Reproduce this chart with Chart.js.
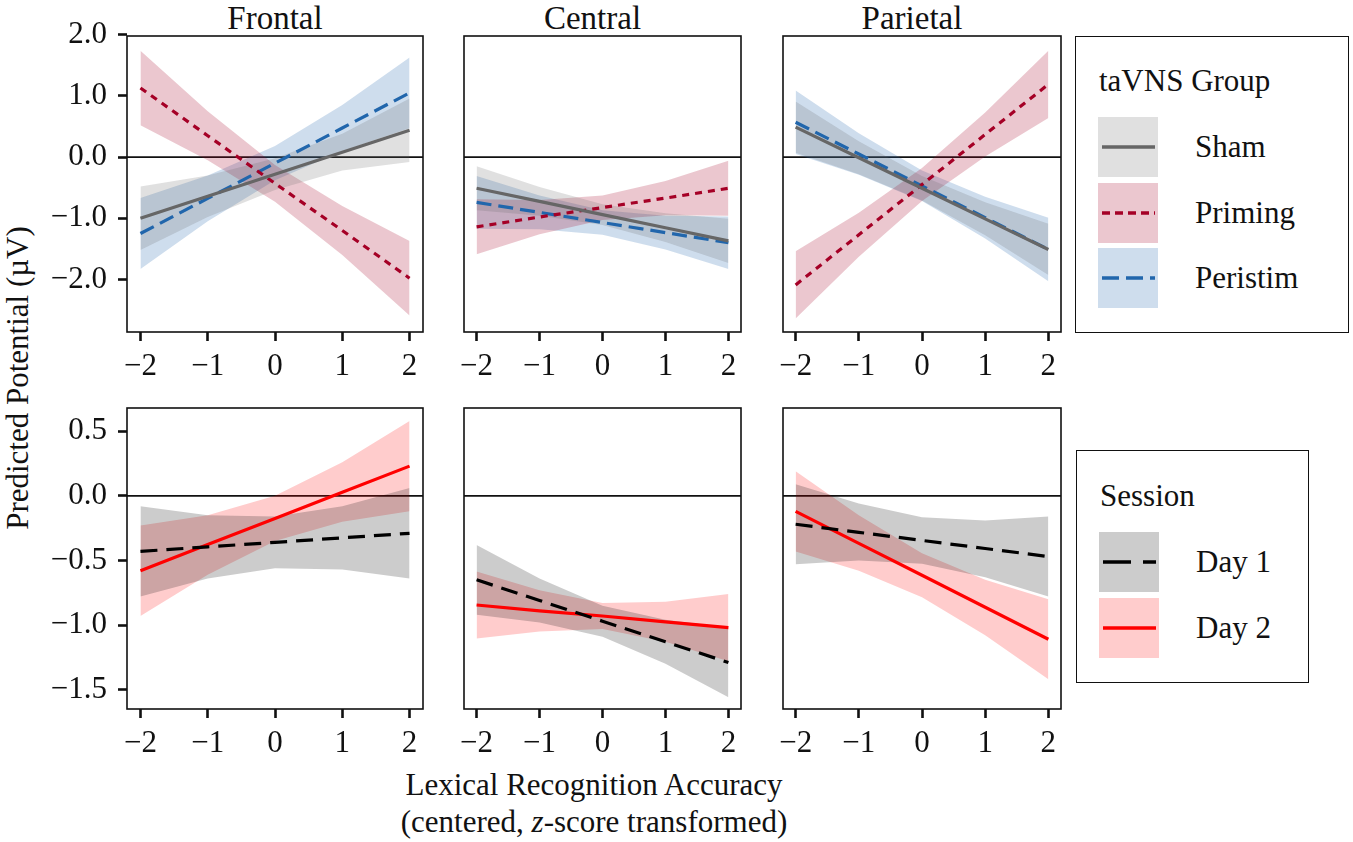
<!DOCTYPE html>
<html>
<head>
<meta charset="utf-8">
<script src="https://cdn.jsdelivr.net/npm/chart.js@4.4.1/dist/chart.umd.min.js"></script>
<style>
  body { margin: 0; background: #fff; width: 1353px; height: 842px; position: relative; overflow: hidden;
         font-family: "Liberation Serif", "Times New Roman", serif; color: #111; }
  .panel { position: absolute; }
  .strip { position: absolute; top: 0; height: 36px; line-height: 36px; font-size: 33px; text-align: center; }
  .ytitle { position: absolute; width: 700px; height: 40px; line-height: 40px; left: -332px; top: 358px;
            font-size: 31px; text-align: center; transform: rotate(-90deg); }
  .xtitle { position: absolute; left: 294px; width: 600px; top: 766px; font-size: 31px; line-height: 37px; text-align: center; }
  .legend { position: absolute; border: 1.5px solid #111; box-sizing: border-box; }
  .legend .title { position: absolute; left: 23px; font-size: 31px; line-height: 36px; white-space: nowrap; }
  .legend .key { position: absolute; left: 22px; width: 60px; height: 60px; }
  .legend .lab { position: absolute; left: 119px; font-size: 31px; line-height: 60px; white-space: nowrap; }
</style>
</head>
<body>

<div class="strip" style="left:127px;width:296px">Frontal</div>
<div class="strip" style="left:444px;width:297px">Central</div>
<div class="strip" style="left:763px;width:298px">Parietal</div>

<div class="ytitle">Predicted Potential (µV)</div>
<div class="xtitle">Lexical Recognition Accuracy<br>(centered, <i>z</i>-score transformed)</div>

<div class="legend" style="left:1075px;top:36px;width:274px;height:297px">
  <div class="title" style="top:26px">taVNS Group</div>
  <div class="key" id="k-sham" style="top:80px"></div>
  <div class="lab" style="top:80px">Sham</div>
  <div class="key" id="k-priming" style="top:146px"></div>
  <div class="lab" style="top:146px">Priming</div>
  <div class="key" id="k-peristim" style="top:211px"></div>
  <div class="lab" style="top:211px">Peristim</div>
</div>

<div class="legend" style="left:1076px;top:450px;width:233px;height:233px">
  <div class="title" style="top:27px">Session</div>
  <div class="key" id="k-day1" style="top:81px"></div>
  <div class="lab" style="top:81px">Day 1</div>
  <div class="key" id="k-day2" style="top:147px"></div>
  <div class="lab" style="top:147px">Day 2</div>
</div>

<script>
// x grid where the model predictions were evaluated
const xs = [-2, -1, 0, 1, 2];
const xTicks = [-2, -1, 0, 1, 2];
const yTicksGroup = [-2, -1, 0, 1, 2];
const yTicksSession = [-1.5, -1, -0.5, 0, 0.5];

// ---- taVNS group (top row) ----
const frontalSham = [-1.00, -0.64, -0.28, 0.08, 0.44];
const frontalShamLo = [-1.52, -0.98, -0.54, -0.22, -0.08];
const frontalShamHi = [-0.48, -0.30, -0.02, 0.38, 0.96];
const frontalPriming = [1.13, 0.35, -0.43, -1.20, -1.98];
const frontalPrimingLo = [0.52, -0.05, -0.73, -1.60, -2.59];
const frontalPrimingHi = [1.74, 0.75, -0.13, -0.80, -1.37];
const frontalPeristim = [-1.25, -0.675, -0.10, 0.475, 1.05];
const frontalPeristimLo = [-1.83, -1.05, -0.38, 0.10, 0.47];
const frontalPeristimHi = [-0.67, -0.30, 0.18, 0.85, 1.63];

const centralSham = [-0.51, -0.725, -0.94, -1.155, -1.37];
const centralShamLo = [-0.87, -0.96, -1.11, -1.39, -1.73];
const centralShamHi = [-0.15, -0.49, -0.77, -0.92, -1.01];
const centralPriming = [-1.14, -0.98, -0.825, -0.67, -0.51];
const centralPrimingLo = [-1.59, -1.26, -1.03, -0.95, -0.96];
const centralPrimingHi = [-0.69, -0.70, -0.63, -0.39, -0.06];
const centralPeristim = [-0.74, -0.905, -1.07, -1.235, -1.40];
const centralPeristimLo = [-1.17, -1.18, -1.27, -1.51, -1.83];
const centralPeristimHi = [-0.31, -0.63, -0.87, -0.96, -0.97];

const parietalSham = [0.49, -0.01, -0.51, -1.01, -1.51];
const parietalShamLo = [0.07, -0.28, -0.71, -1.28, -1.93];
const parietalShamHi = [0.91, 0.26, -0.31, -0.74, -1.09];
const parietalPriming = [-2.09, -1.27, -0.45, 0.37, 1.19];
const parietalPrimingLo = [-2.64, -1.63, -0.72, 0.01, 0.64];
const parietalPrimingHi = [-1.54, -0.91, -0.18, 0.73, 1.74];
const parietalPeristim = [0.57, 0.05, -0.47, -0.99, -1.51];
const parietalPeristimLo = [0.05, -0.29, -0.72, -1.33, -2.03];
const parietalPeristimHi = [1.09, 0.39, -0.22, -0.65, -0.99];

// ---- session (bottom row) ----
const frontalDay1 = [-0.43, -0.395, -0.36, -0.325, -0.29];
const frontalDay1Lo = [-0.78, -0.64, -0.56, -0.57, -0.64];
const frontalDay1Hi = [-0.08, -0.15, -0.16, -0.08, 0.06];
const frontalDay2 = [-0.58, -0.3775, -0.175, 0.0275, 0.23];
const frontalDay2Lo = [-0.93, -0.61, -0.35, -0.20, -0.12];
const frontalDay2Hi = [-0.23, -0.15, 0.00, 0.26, 0.58];

const centralDay1 = [-0.65, -0.81, -0.97, -1.13, -1.29];
const centralDay1Lo = [-0.92, -0.98, -1.09, -1.30, -1.56];
const centralDay1Hi = [-0.38, -0.64, -0.85, -0.96, -1.02];
const centralDay2 = [-0.845, -0.89, -0.93, -0.975, -1.02];
const centralDay2Lo = [-1.105, -1.05, -1.03, -1.13, -1.28];
const centralDay2Hi = [-0.585, -0.73, -0.83, -0.82, -0.76];

const parietalDay1 = [-0.22, -0.2825, -0.345, -0.4075, -0.47];
const parietalDay1Lo = [-0.53, -0.50, -0.525, -0.63, -0.78];
const parietalDay1Hi = [0.09, -0.06, -0.165, -0.19, -0.16];
const parietalDay2 = [-0.12, -0.3675, -0.615, -0.8625, -1.11];
const parietalDay2Lo = [-0.43, -0.58, -0.785, -1.08, -1.42];
const parietalDay2Hi = [0.19, -0.15, -0.445, -0.65, -0.80];

// line / ribbon styles (keyDash = pattern used in the legend swatch)
const styles = {
  sham: { line: "#666666", band: "rgba(102,102,102,0.2)", dash: [], keyDash: [] },
  priming: { line: "#a50026", band: "rgba(165,0,38,0.22)", dash: [7, 6], keyDash: [8, 5] },
  peristim: { line: "#2166ac", band: "rgba(33,102,172,0.22)", dash: [15, 7], keyDash: [17, 7] },
  day1: { line: "#000000", band: "rgba(0,0,0,0.2)", dash: [17, 9], keyDash: [28, 12] },
  day2: { line: "#ff0000", band: "rgba(255,0,0,0.2)", dash: [], keyDash: [] },
};

const FONT = { family: '"Liberation Serif", "Times New Roman", serif', size: 31 };
const INK = "#111";

function fmt(v, d) {
  return Number(v).toFixed(d).replace("-", "\u2212");
}
function pts(arr) {
  return xs.map((x, i) => ({ x: x, y: arr[i] }));
}

// frame around the panel plus the y = 0 reference line
const framePlugin = {
  id: "frame",
  beforeDatasetsDraw(chart) {
    const a = chart.chartArea;
    const y0 = chart.scales.y.getPixelForValue(0);
    const ctx = chart.ctx;
    ctx.save();
    ctx.strokeStyle = INK;
    ctx.lineWidth = 1.6;
    ctx.beginPath();
    ctx.moveTo(a.left, y0);
    ctx.lineTo(a.right, y0);
    ctx.stroke();
    ctx.restore();
  },
  afterDatasetsDraw(chart) {
    const a = chart.chartArea;
    const ctx = chart.ctx;
    ctx.save();
    ctx.strokeStyle = INK;
    ctx.lineWidth = 1.6;
    ctx.strokeRect(a.left, a.top, a.right - a.left, a.bottom - a.top);
    ctx.restore();
  },
};

function makePanel(box, yRange, yTicks, showY, series) {
  const padT = 45, padR = 20, xH = 54;
  const yW = showY ? box.left : 20;
  const div = document.createElement("div");
  div.className = "panel";
  div.style.left = box.left - yW + "px";
  div.style.top = box.top - padT + "px";
  const canvas = document.createElement("canvas");
  canvas.width = yW + box.width + padR;
  canvas.height = padT + box.height + xH;
  div.appendChild(canvas);
  document.body.appendChild(div);

  const datasets = [];
  series.forEach((s) => {
    const st = styles[s.key];
    const n = datasets.length;
    datasets.push({ data: pts(s.hi), borderColor: "transparent", borderWidth: 0, pointRadius: 0, fill: false, order: 10 });
    datasets.push({ data: pts(s.lo), borderColor: "transparent", borderWidth: 0, pointRadius: 0, fill: n, backgroundColor: st.band, order: 10 });
  });
  series.forEach((s) => {
    const st = styles[s.key];
    datasets.push({
      data: pts(s.mid), borderColor: st.line, borderWidth: 3.2, borderDash: st.dash,
      borderCapStyle: "butt", pointRadius: 0, fill: false, order: 1,
    });
  });

  new Chart(canvas, {
    type: "line",
    data: { datasets: datasets },
    options: {
      responsive: false,
      animation: false,
      layout: { padding: { top: padT, right: padR, left: showY ? 0 : 20, bottom: 0 } },
      plugins: { legend: { display: false }, tooltip: { enabled: false } },
      elements: { line: { tension: 0 } },
      scales: {
        x: {
          type: "linear", min: -2.2, max: 2.2,
          afterBuildTicks: (sc) => { sc.ticks = xTicks.map((v) => ({ value: v })); },
          afterFit: (sc) => { sc.height = xH; },
          ticks: { callback: (v) => fmt(v, 0), font: FONT, color: INK, padding: 7, maxRotation: 0, autoSkip: false },
          grid: { display: true, drawOnChartArea: false, drawTicks: true, tickLength: 9, tickWidth: 2.6, tickColor: INK },
          border: { display: false },
        },
        y: {
          type: "linear", min: yRange[0], max: yRange[1], display: showY,
          afterBuildTicks: (sc) => { sc.ticks = yTicks.map((v) => ({ value: v })); },
          afterFit: (sc) => { sc.width = yW; },
          ticks: { callback: (v) => fmt(v, 1), font: FONT, color: INK, padding: 11, autoSkip: false },
          grid: { display: true, drawOnChartArea: false, drawTicks: true, tickLength: 9, tickWidth: 2.6, tickColor: INK },
          border: { display: false },
        },
      },
    },
    plugins: [framePlugin],
  });
}

// legend keys: ribbon swatch with the line style on top
function drawKey(id, key) {
  const st = styles[key];
  const el = document.getElementById(id);
  el.style.background = st.band;
  el.innerHTML =
    '<svg width="60" height="60"><line x1="4" y1="30" x2="57" y2="30" stroke="' + st.line +
    '" stroke-width="3.6" stroke-dasharray="' + (st.keyDash.length ? st.keyDash.join(" ") : "none") + '"/></svg>';
}

window.addEventListener("load", () => {
  const topRange = [-2.86, 1.98];
  const botRange = [-1.65, 0.68];
  const cols = [
    { left: 127, width: 296 },
    { left: 444, width: 297 },
    { left: 763, width: 298 },
  ];

  makePanel({ left: cols[0].left, width: cols[0].width, top: 36, height: 296 }, topRange, yTicksGroup, true, [
    { key: "sham", mid: frontalSham, lo: frontalShamLo, hi: frontalShamHi },
    { key: "priming", mid: frontalPriming, lo: frontalPrimingLo, hi: frontalPrimingHi },
    { key: "peristim", mid: frontalPeristim, lo: frontalPeristimLo, hi: frontalPeristimHi },
  ]);
  makePanel({ left: cols[1].left, width: cols[1].width, top: 36, height: 296 }, topRange, yTicksGroup, false, [
    { key: "sham", mid: centralSham, lo: centralShamLo, hi: centralShamHi },
    { key: "priming", mid: centralPriming, lo: centralPrimingLo, hi: centralPrimingHi },
    { key: "peristim", mid: centralPeristim, lo: centralPeristimLo, hi: centralPeristimHi },
  ]);
  makePanel({ left: cols[2].left, width: cols[2].width, top: 36, height: 296 }, topRange, yTicksGroup, false, [
    { key: "sham", mid: parietalSham, lo: parietalShamLo, hi: parietalShamHi },
    { key: "priming", mid: parietalPriming, lo: parietalPrimingLo, hi: parietalPrimingHi },
    { key: "peristim", mid: parietalPeristim, lo: parietalPeristimLo, hi: parietalPeristimHi },
  ]);

  makePanel({ left: cols[0].left, width: cols[0].width, top: 408, height: 301 }, botRange, yTicksSession, true, [
    { key: "day1", mid: frontalDay1, lo: frontalDay1Lo, hi: frontalDay1Hi },
    { key: "day2", mid: frontalDay2, lo: frontalDay2Lo, hi: frontalDay2Hi },
  ]);
  makePanel({ left: cols[1].left, width: cols[1].width, top: 408, height: 301 }, botRange, yTicksSession, false, [
    { key: "day1", mid: centralDay1, lo: centralDay1Lo, hi: centralDay1Hi },
    { key: "day2", mid: centralDay2, lo: centralDay2Lo, hi: centralDay2Hi },
  ]);
  makePanel({ left: cols[2].left, width: cols[2].width, top: 408, height: 301 }, botRange, yTicksSession, false, [
    { key: "day1", mid: parietalDay1, lo: parietalDay1Lo, hi: parietalDay1Hi },
    { key: "day2", mid: parietalDay2, lo: parietalDay2Lo, hi: parietalDay2Hi },
  ]);

  drawKey("k-sham", "sham");
  drawKey("k-priming", "priming");
  drawKey("k-peristim", "peristim");
  drawKey("k-day1", "day1");
  drawKey("k-day2", "day2");
});
</script>
</body>
</html>
